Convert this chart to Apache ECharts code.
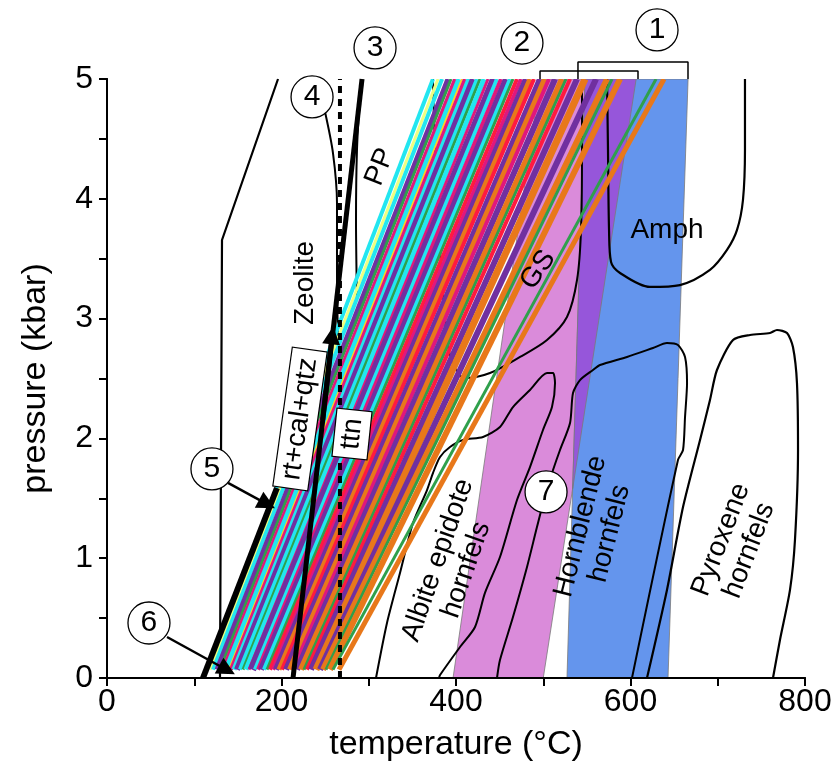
<!DOCTYPE html>
<html><head><meta charset="utf-8">
<script src="https://cdn.jsdelivr.net/npm/echarts@6.0.0/dist/echarts.min.js"></script>
<style>html,body{margin:0;padding:0;background:#fff}#c{width:836px;height:770px}</style>
</head><body><div id="c"></div>
<script>
// ---- axes ----
const xTicks = [0, 200, 400, 600, 800];
const yTicks = [0, 1, 2, 3, 4, 5];

// ---- shaded bands (temperature °C, pressure kbar) ----
const band2T = [396.6, 500.0, 606.5, 496.3];
const band2P = [0, 0, 5, 5];
const band1T = [527.2, 643.0, 666.0, 547.8];
const band1P = [0, 0, 5, 5];
const overlapT = [533.7, 606.5, 547.8];
const overlapP = [1.58, 5, 5];

// ---- coloured reaction lines: T at bottom end and at top (P = 5) ----
const lineBottomP = 0.07;
const lineTopP = 5;
const lineBottomT = [114.6,118.1,121.5,126.1,129.5,133.0,136.4,139.8,142.1,145.6,149.0,152.4,155.9,159.3,162.8,166.2,169.6,173.1,176.5,179.9,183.4,186.8,190.3,193.7,197.1,200.6,205.2,209.7,213.2,217.8,222.3,225.8,229.2,233.8,239.5,244.1,247.6,251.0,255.6,259.0,265.9];
const lineTopT = [373.6,379.4,384.0,390.8,394.3,398.9,403.4,406.9,410.3,414.9,419.5,424.1,427.5,432.1,436.7,443.6,447.0,451.6,457.3,461.9,465.3,469.9,474.5,480.2,484.8,489.4,496.3,502.0,506.6,513.5,521.5,526.1,530.7,538.7,547.9,560.5,573.1,578.8,588.0,629.3,638.4];

// ---- black boundary curves ----
const outerT = [196.0, 131.8, 129.5];
const outerP = [5, 3.656, 0];
const zeoliteT = [249.9, 259.0, 263.6, 263.6, 264.8];
const zeoliteP = [4.725, 4.382, 3.965, 3.406, 2.78];
const ppT = [290.0, 286.5, 285.4, 286.5];
const ppP = [4.866, 4.407, 3.823, 3.155];
const gsT = [373.6,375.9,381.7,388.5,395.4,410.3,439.0,473.4,504.3,527.2,538.7,543.3,544.4,544.4];
const gsP = [5,4.407,3.573,2.905,2.638,2.504,2.546,2.680,2.821,3.013,3.322,3.740,4.407,5];
const albiteT = [308.3,320.9,335.8,350.7,366.8,373.6,381.7,393.1,408.0,431.0,450.4,465.3,484.8,504.3,511.2,513.5,510.0,499.7,484.8,469.9,450.4,433.2,421.8,404.6,381.7,380.5];
const albiteP = [0,0.459,0.876,1.294,1.569,1.711,1.845,1.928,1.987,2.012,2.095,2.262,2.404,2.546,2.546,2.462,2.262,2.070,1.761,1.486,1.010,0.710,0.426,0.259,0.025,0];
const hornT = [447.0,450.4,465.3,481.4,492.8,503.2,511.2,519.2,530.7,534.1,542.1,557.0,565.0,596.0,625.8,641.8,654.4,662.5,664.8,662.5,660.2,654.4,601.7];
const hornP = [0,0.150,0.509,0.927,1.260,1.553,1.736,1.903,2.129,2.379,2.487,2.571,2.613,2.680,2.755,2.796,2.780,2.680,2.462,2.179,1.903,1.820,0];
const pyroxT = [618.9,641.8,660.2,679.7,691.1,699.1,717.5,737.0,759.9,767.9,779.4,786.2,790.8,792.0,788.5,782.8,771.3,763.3];
const pyroxP = [0,0.735,1.427,1.987,2.321,2.571,2.821,2.863,2.880,2.905,2.880,2.763,2.462,1.903,1.152,0.735,0.317,0];
const amphT = [573.1,574.2,575.4,577.7,588.0,622.3,656.7,691.1,710.6,722.1,728.9,731.2,731.2];
const amphP = [5,4.407,3.740,3.472,3.381,3.264,3.280,3.406,3.573,3.740,3.990,4.407,5];

// thick black lines
const line3T = [213.2, 292.3];
const line3P = [0, 5];
const line5T = [110.0, 194.8];
const line5P = [0, 1.586];
const dashT = [267, 267];
const dashP = [0, 5];

// brackets above the frame
const bracket2T = [496.3, 496.3, 608.6, 608.6];
const bracket2P = [5, 5.067, 5.067, 5];
const bracket1T = [539.8, 539.8, 665.9, 665.9];
const bracket1P = [5, 5.142, 5.142, 5];

// circled numbers
const circleNames = ['1','2','3','4','5','6','7'];
const circleT = [630.4, 475.6, 307.2, 235.0, 120.3, 48.1, 503.2];
const circleP = [5.41, 5.30, 5.259, 4.85, 1.745, 0.459, 1.553];

// arrows: start and end points
const arrowStartT = [138.7, 68.8, 247.2];
const arrowStartP = [1.628, 0.342, 2.154];
const arrowEndT = [183.4, 137.5, 258.0];
const arrowEndP = [1.452, 0.067, 2.86];

// field labels
const fieldText = ['Zeolite','PP','GS','Amph','Albite epidote\nhornfels','Hornblende\nhornfels','Pyroxene\nhornfels'];
const fieldT = [226.9, 312.9, 494.0, 641.8, 395.4, 559.3, 719.8];
const fieldP = [3.297, 4.266, 3.406, 3.740, 0.943, 1.235, 1.11];
const boxText = ['rt+cal+qtz', 'ttn'];
const boxT = [221.2, 280.8];
const boxP = [2.162, 2.037];

// ---- styles ----
const C = {cyan:'#22E6F0', lyel:'#EEFF80', pur:'#7030A0', grn:'#2FA04C', mag:'#E0187C', yel:'#FFD21F', red:'#FF1A40', org:'#E8781A'};
const lineColors = ['cyan','lyel','cyan','pur','grn','mag','cyan','yel','mag','cyan','pur','cyan','grn','cyan','mag','pur','cyan','mag','pur','cyan','grn','red','mag','pur','org','red','pur','org','mag','pur','org','grn','red','pur','org','pur','org','grn','org','grn','org'].map(k=>C[k]);
const lineWidths = [4,3,4,5,3,4,5,2,4,5,6,4,3,5,3,8,4,4,6,4,3,4,4,6,5,4,6,6,4,6,6,3,4,6,7,6,6,3,6,3,5];
const fieldRot = [90, 68, 55, 0, 71, 76, 69];
const boxRot = [82, 84];
const bandColors = ['#DA8BDA', '#6495ED', '#9656DA'];
const FONT = '"Liberation Sans", Arial, Helvetica, sans-serif';

const zip = (a, b) => a.map((v, i) => [v, b[i]]);
const bands = [zip(band2T, band2P), zip(band1T, band1P), zip(overlapT, overlapP)];

function blackLine(name, T, P, width, z, extra) {
  return Object.assign({
    type: 'line', name, data: zip(T, P), showSymbol: false, symbol: 'none', z,
    lineStyle: {color: '#000', width}, silent: true, animation: false, emphasis: {disabled: true}
  }, extra || {});
}

const chart = echarts.init(document.getElementById('c'), null, {renderer: 'canvas'});
const axisCommon = {
  axisLine: {show: true, lineStyle: {color: '#000', width: 2}},
  splitLine: {show: false}, z: 10
};
chart.setOption({
  animation: false,
  backgroundColor: '#fff',
  textStyle: {fontFamily: FONT},
  grid: {left: 107, right: 31, top: 79, bottom: 92, outerBoundsMode: 'none', containLabel: false},
  xAxis: [
    Object.assign({}, axisCommon, {
      type: 'value', min: 0, max: 800, interval: 100, position: 'bottom',
      axisTick: {show: true, inside: false, length: 8, lineStyle: {color: '#000', width: 2}},
      axisLabel: {formatter: v => xTicks.includes(v) ? String(v) : '', fontSize: 32, color: '#000', margin: 8, fontFamily: FONT},
      name: 'temperature (°C)', nameLocation: 'middle', nameGap: 50, nameMoveOverlap: false,
      nameTextStyle: {fontSize: 34, color: '#000', fontFamily: FONT}
    }),
    Object.assign({}, axisCommon, {
      type: 'value', min: 0, max: 800, position: 'top', axisTick: {show: false}, axisLabel: {show: false}
    })
  ],
  yAxis: [
    Object.assign({}, axisCommon, {
      type: 'value', min: 0, max: 5, interval: 0.5, position: 'left',
      axisTick: {show: true, inside: false, length: 8, lineStyle: {color: '#000', width: 2}},
      axisLabel: {formatter: v => yTicks.includes(v) ? String(v) : '', fontSize: 32, color: '#000', margin: 14, fontFamily: FONT},
      name: 'pressure (kbar)', nameLocation: 'middle', nameGap: 54, nameRotate: 90, nameMoveOverlap: false,
      nameTextStyle: {fontSize: 34, color: '#000', fontFamily: FONT}
    }),
    Object.assign({}, axisCommon, {
      type: 'value', min: 0, max: 5, position: 'right', axisTick: {show: false}, axisLabel: {show: false}
    })
  ],
  series: [
    {
      type: 'custom', name: 'bands', z: 1, silent: true, clip: true,
      data: bands.map((b, i) => i),
      renderItem: (params, api) => {
        const i = params.dataIndex;
        return {
          type: 'polygon',
          shape: {points: bands[i].map(p => api.coord(p))},
          style: {fill: bandColors[i], stroke: '#7a7a7a', lineWidth: 0.8}
        };
      }
    },
    blackLine('outer', outerT, outerP, 2.2, 2),
    blackLine('zeolite', zeoliteT, zeoliteP, 2, 2, {smooth: 0.3}),
    blackLine('pp', ppT, ppP, 2, 2, {smooth: 0.3}),
    blackLine('gs', gsT, gsP, 2, 2, {smooth: 0.3}),
    blackLine('albite', albiteT, albiteP, 2, 2, {smooth: 0.25}),
    blackLine('hornblende', hornT, hornP, 2, 2, {smooth: 0.25}),
    blackLine('pyroxene', pyroxT, pyroxP, 2.2, 2, {smooth: 0.25}),
    blackLine('amph', amphT, amphP, 2.2, 2, {smooth: 0.3}),
    {
      type: 'custom', name: 'reactions', z: 3, silent: true, clip: true,
      data: lineBottomT.map((v, i) => i),
      renderItem: (params, api) => {
        const i = params.dataIndex;
        const a = api.coord([lineBottomT[i], lineBottomP]);
        const b = api.coord([lineTopT[i], lineTopP]);
        return {type: 'line', shape: {x1: a[0], y1: a[1], x2: b[0], y2: b[1]},
                style: {stroke: lineColors[i], lineWidth: lineWidths[i]}};
      }
    },
    blackLine('line3', line3T, line3P, 5, 4),
    blackLine('line5', line5T, line5P, 6, 4),
    blackLine('ttn', dashT, dashP, 4, 4, {lineStyle: {color: '#000', width: 4, type: [7, 6]}}),
    blackLine('bracket2', bracket2T, bracket2P, 1.5, 4, {clip: false}),
    blackLine('bracket1', bracket1T, bracket1P, 1.5, 4, {clip: false}),
    {
      type: 'lines', coordinateSystem: 'cartesian2d', z: 5, silent: true, animation: false,
      symbol: ['none', 'triangle'], symbolSize: 18,
      lineStyle: {color: '#000', width: 2.5, opacity: 1},
      data: arrowStartT.map((v, i) => ({
        coords: [[v, arrowStartP[i]], [arrowEndT[i], arrowEndP[i]]],
        lineStyle: {width: i === 2 ? 5 : 2.5}
      }))
    },
    {
      type: 'scatter', name: 'fieldLabels', z: 6, silent: true, clip: false,
      symbolSize: 1, itemStyle: {color: 'rgba(0,0,0,0)', opacity: 1},
      emphasis: {disabled: true},
      data: fieldText.map((t, i) => ({
        value: [fieldT[i], fieldP[i]],
        label: {show: true, position: 'inside', formatter: t, rotate: fieldRot[i], opacity: 1,
                fontSize: 28, lineHeight: 30, color: '#000', align: 'center', fontFamily: FONT}
      }))
    },
    {
      type: 'scatter', name: 'boxLabels', z: 7, silent: true, clip: false,
      symbolSize: 1, itemStyle: {color: 'rgba(0,0,0,0)', opacity: 1},
      emphasis: {disabled: true},
      data: boxText.map((t, i) => ({
        value: [boxT[i], boxP[i]],
        label: {show: true, position: 'inside', formatter: t, rotate: boxRot[i], opacity: 1,
                fontSize: 28, color: '#000', backgroundColor: '#fff', borderColor: '#000',
                borderWidth: 1.2, padding: [4, 8, 2, 8], fontFamily: FONT}
      }))
    },
    {
      type: 'scatter', name: 'circles', z: 8, silent: true, clip: false,
      symbol: 'circle', symbolSize: 42,
      emphasis: {disabled: true},
      itemStyle: {color: '#fff', borderColor: '#000', borderWidth: 1.3, opacity: 1},
      data: circleNames.map((n, i) => ({value: [circleT[i], circleP[i]], name: n})),
      label: {show: true, position: 'inside', formatter: p => p.name, fontSize: 30, color: '#000', opacity: 1, fontFamily: FONT}
    }
  ]
});
</script>
</body></html>
